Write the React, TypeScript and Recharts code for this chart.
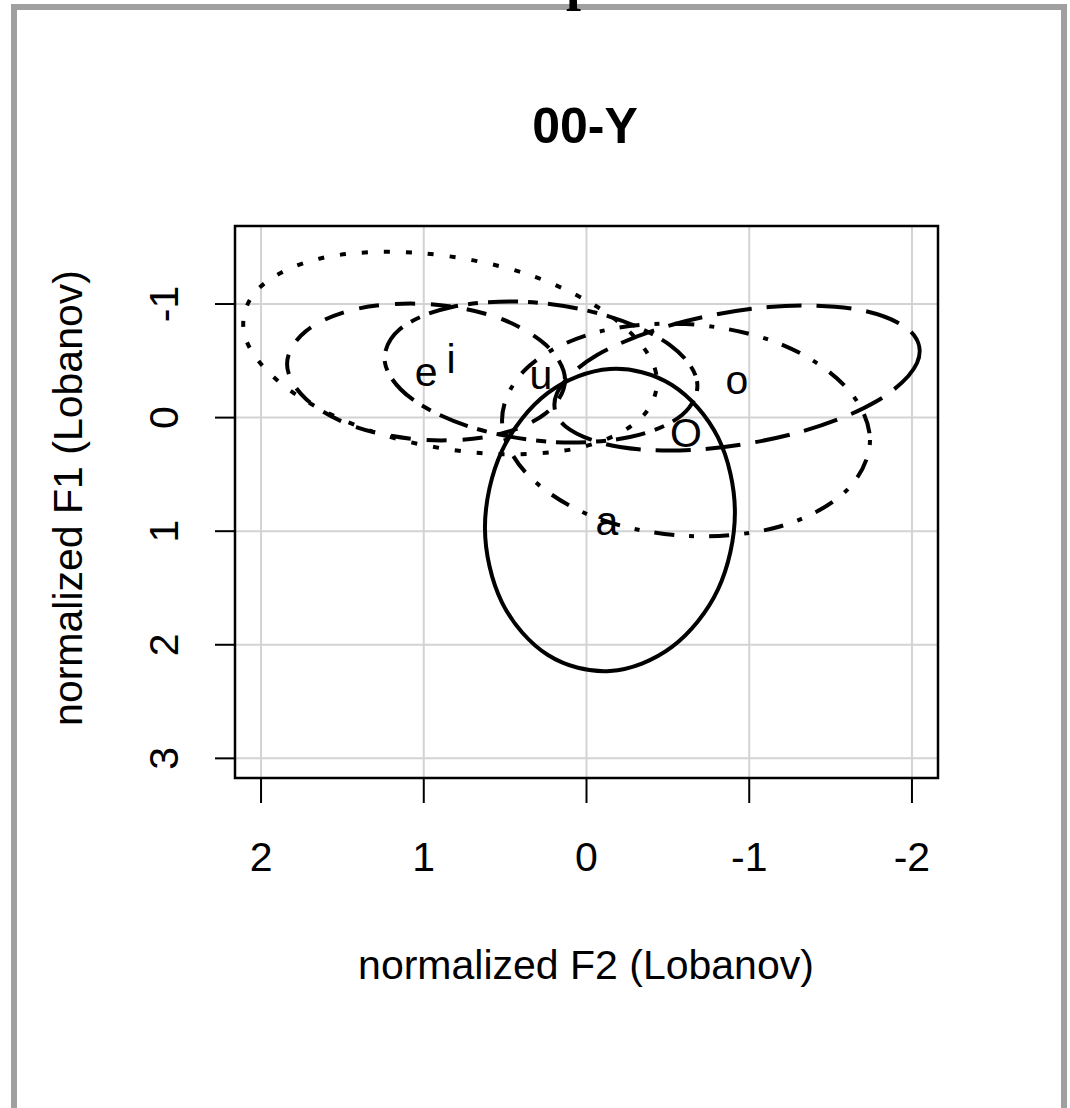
import React from 'react';
import { ComposedChart, Line, Scatter, XAxis, YAxis, CartesianGrid, ReferenceArea } from 'recharts';

// axis ticks (both axes run reversed, as in the phonetic F1/F2 chart)
const xTicks = [2, 1, 0, -1, -2];
const yTicks = [-1, 0, 1, 2, 3];
const xDomain = [-2.16, 2.16];
const yDomain = [-1.687, 3.173];

// outline points of each vowel ellipse (x = F2, y = F1)
const ellipseA = [
  { x: -0.912, y: 0.835 }, { x: -0.808, y: 1.513 }, { x: -0.525, y: 2.019 }, { x: -0.144, y: 2.231 },
  { x: 0.237, y: 2.09 }, { x: 0.519, y: 1.628 }, { x: 0.624, y: 0.967 }, { x: 0.519, y: 0.29 },
  { x: 0.237, y: -0.217 }, { x: -0.144, y: -0.428 }, { x: -0.525, y: -0.287 }, { x: -0.808, y: 0.175 },
];
const ellipseE = [
  { x: 0.132, y: -0.331 }, { x: 0.249, y: -0.04 }, { x: 0.556, y: 0.153 }, { x: 0.986, y: 0.197 },
  { x: 1.416, y: 0.083 }, { x: 1.724, y: -0.164 }, { x: 1.84, y: -0.472 }, { x: 1.724, y: -0.762 },
  { x: 1.416, y: -0.956 }, { x: 0.986, y: -1.0 }, { x: 0.556, y: -0.886 }, { x: 0.249, y: -0.639 },
];
const ellipseI = [
  { x: -0.421, y: -0.428 }, { x: -0.341, y: -0.005 }, { x: 0.052, y: 0.268 }, { x: 0.654, y: 0.312 },
  { x: 1.306, y: 0.127 }, { x: 1.834, y: -0.252 }, { x: 2.098, y: -0.71 }, { x: 2.018, y: -1.132 },
  { x: 1.625, y: -1.405 }, { x: 1.023, y: -1.449 }, { x: 0.366, y: -1.264 }, { x: -0.157, y: -0.886 },
];
const ellipseU = [
  { x: -0.679, y: -0.322 }, { x: -0.587, y: -0.023 }, { x: -0.267, y: 0.171 }, { x: 0.2, y: 0.215 },
  { x: 0.691, y: 0.092 }, { x: 1.072, y: -0.164 }, { x: 1.238, y: -0.481 }, { x: 1.146, y: -0.78 },
  { x: 0.826, y: -0.974 }, { x: 0.359, y: -1.018 }, { x: -0.132, y: -0.894 }, { x: -0.513, y: -0.639 },
];
const ellipseLowO = [
  { x: -2.031, y: -0.481 }, { x: -1.785, y: -0.146 }, { x: -1.312, y: 0.127 }, { x: -0.728, y: 0.276 },
  { x: -0.206, y: 0.259 }, { x: 0.132, y: 0.074 }, { x: 0.181, y: -0.217 }, { x: -0.065, y: -0.551 },
  { x: -0.544, y: -0.824 }, { x: -1.121, y: -0.974 }, { x: -1.65, y: -0.956 }, { x: -1.982, y: -0.771 },
];
const ellipseCapO = [
  { x: -1.742, y: 0.197 }, { x: -1.588, y: 0.655 }, { x: -1.177, y: 0.963 }, { x: -0.611, y: 1.042 },
  { x: -0.046, y: 0.875 }, { x: 0.366, y: 0.496 }, { x: 0.519, y: 0.021 }, { x: 0.366, y: -0.437 },
  { x: -0.046, y: -0.745 }, { x: -0.611, y: -0.824 }, { x: -1.177, y: -0.657 }, { x: -1.588, y: -0.278 },
];

// vowel means
const vowelLabels = [
  { x: 0.986, y: -0.4, label: 'e' },
  { x: 0.833, y: -0.52, label: 'i' },
  { x: 0.28, y: -0.375, label: 'u' },
  { x: -0.925, y: -0.33, label: 'o' },
  { x: -0.611, y: 0.136, label: 'O' },
  { x: -0.126, y: 0.91, label: 'a' },
];

const FONT = '"Liberation Sans", Arial, sans-serif';

// closed Catmull-Rom curve so the outline passes through every point
function closedSmooth(context: any) {
  let pts: number[][] = [];
  return {
    areaStart() {},
    areaEnd() {},
    lineStart() {
      pts = [];
    },
    point(x: number, y: number) {
      pts.push([+x, +y]);
    },
    lineEnd() {
      const n = pts.length;
      if (n < 3) return;
      context.moveTo(pts[0][0], pts[0][1]);
      for (let i = 0; i < n; i++) {
        const p0 = pts[(i - 1 + n) % n];
        const p1 = pts[i];
        const p2 = pts[(i + 1) % n];
        const p3 = pts[(i + 2) % n];
        context.bezierCurveTo(
          p1[0] + (p2[0] - p0[0]) / 6, p1[1] + (p2[1] - p0[1]) / 6,
          p2[0] - (p3[0] - p1[0]) / 6, p2[1] - (p3[1] - p1[1]) / 6,
          p2[0], p2[1],
        );
      }
      context.closePath();
    },
  };
}

const YTick = (props: any) => {
  const { x, y, payload } = props;
  return (
    <text x={x} y={y} transform={`rotate(-90 ${x} ${y})`} textAnchor="middle" fontSize={41} fontFamily={FONT} fill="#000">
      {payload.value}
    </text>
  );
};

const VowelText = (props: any) => {
  const { cx, cy, payload } = props;
  return (
    <text x={cx} y={cy} textAnchor="middle" dominantBaseline="central" fontSize={41} fontFamily={FONT} fill="#000">
      {payload.label}
    </text>
  );
};

const lineStyle = { stroke: '#000', strokeWidth: 4, fill: 'none' };

export default function App() {
  return (
    <div style={{ position: 'absolute', left: 0, top: 0, width: 1070, height: 1108, background: '#fff', overflow: 'hidden' }}>
      <ComposedChart width={1070} height={1108} margin={{ top: 226, right: 132, bottom: 230, left: 135 }}>
        <CartesianGrid stroke="#d3d3d3" strokeWidth={2} />
        <XAxis
          type="number"
          dataKey="x"
          domain={xDomain}
          allowDataOverflow
          reversed
          ticks={xTicks}
          interval={0}
          height={100}
          axisLine={false}
          tickLine={{ stroke: '#000', strokeWidth: 2 }}
          tickSize={25}
          tickMargin={39}
          tick={{ fontSize: 41, fontFamily: FONT, fill: '#000' }}
        />
        <YAxis
          type="number"
          dataKey="y"
          domain={yDomain}
          allowDataOverflow
          reversed
          ticks={yTicks}
          interval={0}
          width={100}
          axisLine={false}
          tickLine={{ stroke: '#000', strokeWidth: 2 }}
          tickSize={20}
          tickMargin={37}
          tick={<YTick />}
        />
        <ReferenceArea x1={xDomain[0]} x2={xDomain[1]} y1={yDomain[0]} y2={yDomain[1]} fill="none" fillOpacity={0} stroke="#000" strokeWidth={2.5} ifOverflow="visible" />
        <Line data={ellipseA} dataKey="y" type={closedSmooth} {...lineStyle} dot={false} activeDot={false} isAnimationActive={false} />
        <Line data={ellipseE} dataKey="y" type={closedSmooth} {...lineStyle} strokeDasharray="20 16" dot={false} activeDot={false} isAnimationActive={false} />
        <Line data={ellipseI} dataKey="y" type={closedSmooth} {...lineStyle} strokeDasharray="6 16" dot={false} activeDot={false} isAnimationActive={false} />
        <Line data={ellipseCapO} dataKey="y" type={closedSmooth} {...lineStyle} strokeDasharray="5 15 20 15" dot={false} activeDot={false} isAnimationActive={false} />
        <Line data={ellipseLowO} dataKey="y" type={closedSmooth} {...lineStyle} strokeDasharray="35 15" dot={false} activeDot={false} isAnimationActive={false} />
        <Line data={ellipseU} dataKey="y" type={closedSmooth} {...lineStyle} strokeDasharray="10 10 30 10" dot={false} activeDot={false} isAnimationActive={false} />
        <Scatter data={vowelLabels} dataKey="y" shape={<VowelText />} isAnimationActive={false} />
      </ComposedChart>
      <svg width={1070} height={1108} style={{ position: 'absolute', left: 0, top: 0, pointerEvents: 'none' }}>
        <rect x={11} y={4} width={1056} height={6} fill="#a0a0a0" />
        <rect x={11} y={4} width={6} height={1104} fill="#a0a0a0" />
        <rect x={1061} y={4} width={6} height={1104} fill="#a0a0a0" />
        <text x={566} y={-1} fontSize={54} fontWeight="bold" fontFamily='"Liberation Serif", serif' fill="#000">p</text>
        <text x={585} y={143} textAnchor="middle" fontSize={50} fontWeight="bold" fontFamily={FONT} fill="#000">00-Y</text>
        <text x={586} y={979} textAnchor="middle" fontSize={41} fontFamily={FONT} fill="#000">normalized F2 (Lobanov)</text>
        <text x={82} y={498} transform="rotate(-90 82 498)" textAnchor="middle" fontSize={41} fontFamily={FONT} fill="#000">normalized F1 (Lobanov)</text>
      </svg>
    </div>
  );
}
